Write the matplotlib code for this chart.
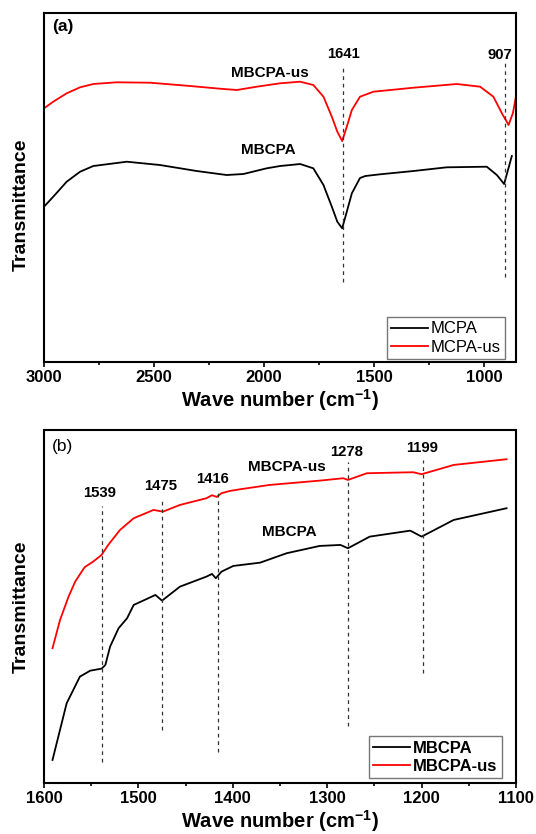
import numpy as np
import matplotlib
matplotlib.use("Agg")
import matplotlib.pyplot as plt
from matplotlib.ticker import MultipleLocator

plt.rcParams['font.family'] = ['Liberation Sans', 'DejaVu Sans']
plt.rcParams['mathtext.fontset'] = 'custom'
plt.rcParams['mathtext.rm'] = 'Liberation Sans'
plt.rcParams['mathtext.bf'] = 'Liberation Sans:bold'

# panel (a): full spectra, arbitrary transmittance units
wn_a_red = [3000, 2958, 2897, 2836, 2776, 2670, 2518, 2336, 2200, 2124, 2033, 1927,
            1836, 1776, 1730, 1692, 1667, 1645, 1624, 1601, 1564, 1503, 1321, 1124,
            1018, 958, 915, 897, 889, 869, 856]
t_a_red = [253.7, 260.3, 268.7, 274.7, 278, 279.7, 279.3, 276, 273.3, 272, 275.3, 278.7,
           280.3, 277, 265.3, 245.3, 230.3, 221, 235.3, 252, 265.3, 270.3, 274.3, 278,
           275.3, 265.3, 247, 240.3, 237, 249, 264.6]
wn_a_blk = [3000, 2958, 2897, 2836, 2776, 2624, 2473, 2306, 2170, 2094, 1988, 1927,
            1836, 1776, 1730, 1692, 1667, 1645, 1624, 1601, 1564, 1540, 1473, 1321,
            1170, 988, 942, 909, 874]
t_a_blk = [155.3, 165.3, 180.3, 190.3, 196, 200.3, 197, 191, 187, 188, 193.7, 196,
           198, 193.7, 177, 155.3, 140.3, 133.7, 150.3, 168.7, 184, 186, 187.7, 191,
           194.7, 195.3, 187, 178, 206]
peaks_a = [1641, 907]
peak_a_top = [295, 302]
peak_a_bot = [80, 85]
peak_a_lbl_x = [1641, 930]
peak_a_lbl_y = [308, 307]

# panel (b): 1600-1100 region
wn_b_red = [1591, 1583, 1574, 1567, 1557, 1548, 1539, 1532, 1519.5, 1505, 1484, 1474,
            1456, 1428, 1422, 1417, 1412, 1403, 1392, 1361, 1308, 1283, 1278, 1258,
            1209, 1200, 1166, 1110]
t_b_red = [134.7, 163, 186.3, 201.3, 215.7, 221.3, 228, 238, 253, 264.7, 273, 271.3,
           278, 284.7, 287.7, 286, 289.7, 292, 293.7, 298, 302.3, 304.7, 303, 309.7,
           310.7, 308.7, 318, 323.7]
wn_b_blk = [1591, 1576, 1562, 1551, 1539, 1535, 1530, 1521, 1512, 1505, 1495, 1482,
            1475, 1456, 1428, 1422, 1418, 1412, 1399.5, 1371, 1343, 1308, 1286, 1278,
            1255, 1212, 1200, 1166, 1110]
t_b_blk = [23, 79.7, 106.3, 112.3, 114.3, 118, 136.3, 154.7, 164.7, 178, 182.3, 188,
           182.3, 196.3, 206.3, 209, 204.7, 211.3, 217, 220.3, 229.7, 237, 238, 234.7,
           246.3, 252.3, 246.3, 263, 274.7]
peaks_b = [1539, 1475, 1416, 1278, 1199]
peak_b_top = [277, 285, 290, 321, 323]
peak_b_bot = [21, 53, 31, 57, 110]
peak_b_lbl_x = [1541, 1476, 1421, 1279, 1199]
peak_b_lbl_y = [290, 297, 304, 331, 335]

fig = plt.figure(figsize=(5.36, 8.34), dpi=100)
ax1 = fig.add_axes([0.0821, 0.5659, 0.8806, 0.4190])
ax2 = fig.add_axes([0.0821, 0.0612, 0.8806, 0.4233])


def style_axis(ax, xlim, major, minor, ylab_y):
    ax.set_xlim(*xlim)
    ax.xaxis.set_major_locator(MultipleLocator(major))
    ax.xaxis.set_minor_locator(MultipleLocator(minor))
    ax.set_yticks([])
    for s in ax.spines.values():
        s.set_linewidth(1.5)
    ax.tick_params(axis='x', which='major', direction='out', length=3.6, width=1.2,
                   labelsize=12, pad=2)
    ax.tick_params(axis='x', which='minor', direction='out', length=2.4, width=1.2)
    for lbl in ax.get_xticklabels():
        lbl.set_fontweight('bold')
    ax.set_xlabel(r'Wave number (cm$^{\mathbf{-1}}$)', fontsize=14.5, fontweight='bold', labelpad=1.5)
    ax.set_ylabel('Transmittance', fontsize=14, fontweight='bold')
    ax.yaxis.set_label_coords(-0.03, ylab_y)


# (a)
ax1.plot(wn_a_blk, t_a_blk, color='black', lw=1.3, label='MCPA')
ax1.plot(wn_a_red, t_a_red, color='red', lw=1.3, label='MCPA-us')
for p, top, bot in zip(peaks_a, peak_a_top, peak_a_bot):
    ax1.plot([p, p], [bot, top], color='#333333', lw=0.9, dashes=(3, 3))
for p, lx, ly in zip(peaks_a, peak_a_lbl_x, peak_a_lbl_y):
    ax1.text(lx, ly, str(p), ha='center', va='center', fontsize=10.7, fontweight='bold')
ax1.text(1974, 289.5, 'MBCPA-us', ha='center', va='center', fontsize=11, fontweight='bold')
ax1.text(1982, 211.6, 'MBCPA', ha='center', va='center', fontsize=11, fontweight='bold')
ax1.text(0.017, 0.959, '(a)', transform=ax1.transAxes, ha='left', va='center',
         fontsize=12.5, fontweight='bold')
ax1.set_ylim(0, 349.4)
style_axis(ax1, (3000, 855), 500, 250, 0.449)
leg1 = ax1.legend(loc='lower right', bbox_to_anchor=(0.977, 0.009), fontsize=12,
                  frameon=True, fancybox=False, edgecolor='#555555', handlelength=2.2,
                  handletextpad=0.2, borderpad=0.25, labelspacing=0.2, borderaxespad=0)
leg1.get_frame().set_linewidth(1.0)

# (b)
ax2.plot(wn_b_blk, t_b_blk, color='black', lw=1.3, label='MBCPA')
ax2.plot(wn_b_red, t_b_red, color='red', lw=1.3, label='MBCPA-us')
for p, top, bot in zip(peaks_b, peak_b_top, peak_b_bot):
    ax2.plot([p, p], [bot, top], color='#333333', lw=0.9, dashes=(3, 3))
for p, lx, ly in zip(peaks_b, peak_b_lbl_x, peak_b_lbl_y):
    ax2.text(lx, ly, str(p), ha='center', va='center', fontsize=10.7, fontweight='bold')
ax2.text(1343, 316.3, 'MBCPA-us', ha='center', va='center', fontsize=11, fontweight='bold')
ax2.text(1340.5, 251.3, 'MBCPA', ha='center', va='center', fontsize=11, fontweight='bold')
ax2.text(0.016, 0.953, '(b)', transform=ax2.transAxes, ha='left', va='center',
         fontsize=12.5)
ax2.set_ylim(0, 353)
style_axis(ax2, (1600, 1100), 100, 50, 0.5)
leg2 = ax2.legend(loc='lower right', bbox_to_anchor=(0.970, 0.014),
                  frameon=True, fancybox=False, edgecolor='#555555', handlelength=2.2,
                  handletextpad=0.2, borderpad=0.25, labelspacing=0.2, borderaxespad=0,
                  prop={'weight': 'bold', 'size': 12})
leg2.get_frame().set_linewidth(1.0)

fig.savefig('out.png', dpi=100)
